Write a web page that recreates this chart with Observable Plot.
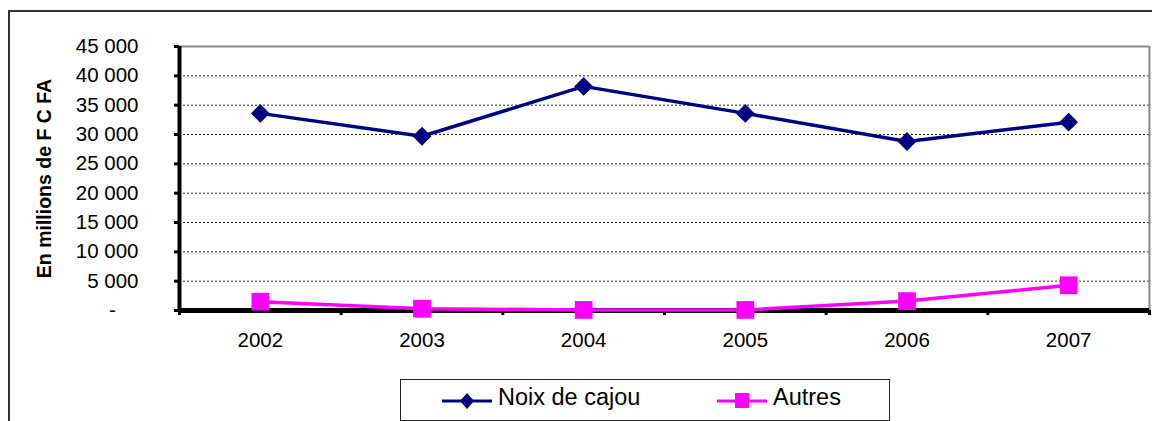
<!DOCTYPE html>
<html><head><meta charset="utf-8">
<script src="https://cdn.jsdelivr.net/npm/d3@7"></script>
<script src="https://cdn.jsdelivr.net/npm/@observablehq/plot@0.6"></script>
<style>
html,body{margin:0;padding:0;background:#fff;overflow:hidden;}
#wrap{position:relative;width:1152px;height:421px;overflow:hidden;font-family:"Liberation Sans",Arial,sans-serif;background:#fff;}
#border{position:absolute;left:8px;top:10px;width:1170px;height:440px;border:2px solid #333;box-sizing:border-box;}
#chart{position:absolute;left:0;top:0;}
#legend{position:absolute;left:400px;top:379px;width:490px;height:42px;}
</style></head><body>
<div id="wrap"><div id="border"></div><div id="chart"></div><div id="legend"></div></div>
<script>
const years = [2002, 2003, 2004, 2005, 2006, 2007];
const noixDeCajou = [33600, 29700, 38200, 33600, 28800, 32100];
const autres = [1500, 300, 100, 100, 1600, 4300];
const yTicks = [0, 5000, 10000, 15000, 20000, 25000, 30000, 35000, 40000, 45000];
const seriesNames = ["Noix de cajou", "Autres"];
const seriesColors = ["#000080", "#FF00FF"];
const yTitle = "En millions de F C FA";

const xMin = years[0] - 0.5, xMax = years[years.length - 1] + 0.5;
const yMax = yTicks[yTicks.length - 1];
const boundaries = years.map(y => y - 0.5).concat([xMax]);
const gridTicks = yTicks.filter(t => t > 0 && t < yMax);
const rowsNoix = years.map((y, i) => ({year: y, value: noixDeCajou[i]}));
const rowsAutres = years.map((y, i) => ({year: y, value: autres[i]}));
const fmt = n => n === 0 ? "-\u00a0\u00a0\u00a0\u00a0" : d3.format(",")(n).replace(/,/g, " ");

const chart = Plot.plot({
  width: 1152, height: 421,
  marginLeft: 179, marginRight: 3, marginTop: 46, marginBottom: 111,
  x: {domain: [xMin, xMax]},
  y: {domain: [0, yMax]},
  style: {fontFamily: '"Liberation Sans", Arial, sans-serif', fontSize: "20px", color: "#000", background: "transparent", overflow: "visible"},
  marks: [
    Plot.ruleY(gridTicks, {stroke: "#000", strokeDasharray: "2,2", strokeWidth: 1, strokeOpacity: 0.85}),
    Plot.ruleY([yMax], {stroke: "#888", strokeWidth: 2}),
    Plot.ruleX([xMax], {stroke: "#888", strokeWidth: 2}),
    Plot.axisY(yTicks, {tickSize: 5, strokeWidth: 3, tickPadding: 36, tickFormat: fmt, label: null, fontSize: 20.5}),
    Plot.axisX(boundaries, {tickSize: 5, strokeWidth: 3, tickFormat: () => "", label: null}),
    Plot.axisX(years, {tickSize: 0, tickPadding: 22, tickFormat: d => String(d), label: null, fontSize: 20.5}),
    Plot.ruleX([xMin], {y1: 0, y2: yMax, stroke: "#000", strokeWidth: 4}),
    Plot.ruleY([0], {stroke: "#000", strokeWidth: 5}),
    Plot.text([yTitle], {frameAnchor: "left", textAnchor: "middle", rotate: -90, dx: -135, fontWeight: "bold", fontSize: 19.5, fill: "#000"}),
    Plot.line(rowsNoix, {x: "year", y: "value", stroke: seriesColors[0], strokeWidth: 3.5}),
    Plot.dot(rowsNoix, {x: "year", y: "value", symbol: "diamond2", r: 8.5, fill: seriesColors[0], stroke: "none"}),
    Plot.line(rowsAutres, {x: "year", y: "value", stroke: seriesColors[1], strokeWidth: 3.5}),
    Plot.dot(rowsAutres, {x: "year", y: "value", symbol: "square", r: 10, fill: seriesColors[1], stroke: "none"})
  ]
});
document.getElementById("chart").appendChild(chart);

// Legend
const lg = d3.select("#legend").append("svg").attr("width", 490).attr("height", 42).style("display", "block");
lg.append("rect").attr("x", 0.5).attr("y", 0.5).attr("width", 489).attr("height", 41).attr("fill", "#fff").attr("stroke", "#222").attr("stroke-width", 1);
const items = [{x0: 42}, {x0: 317}];
seriesNames.forEach((name, i) => {
  const g = lg.append("g").attr("transform", `translate(${items[i].x0},0)`);
  g.append("line").attr("x1", 0).attr("x2", 50).attr("y1", 22).attr("y2", 22).attr("stroke", seriesColors[i]).attr("stroke-width", 3);
  if (i === 0) {
    g.append("path").attr("d", "M25,14L32,22L25,30L18,22Z").attr("fill", seriesColors[i]);
  } else {
    g.append("rect").attr("x", 18).attr("y", 14).attr("width", 14).attr("height", 15).attr("fill", seriesColors[i]);
  }
  g.append("text").attr("x", 56).attr("y", 26).attr("font-size", 23.5).attr("font-family", '"Liberation Sans", Arial, sans-serif').attr("fill", "#000").text(name);
});
</script>
</body></html>
